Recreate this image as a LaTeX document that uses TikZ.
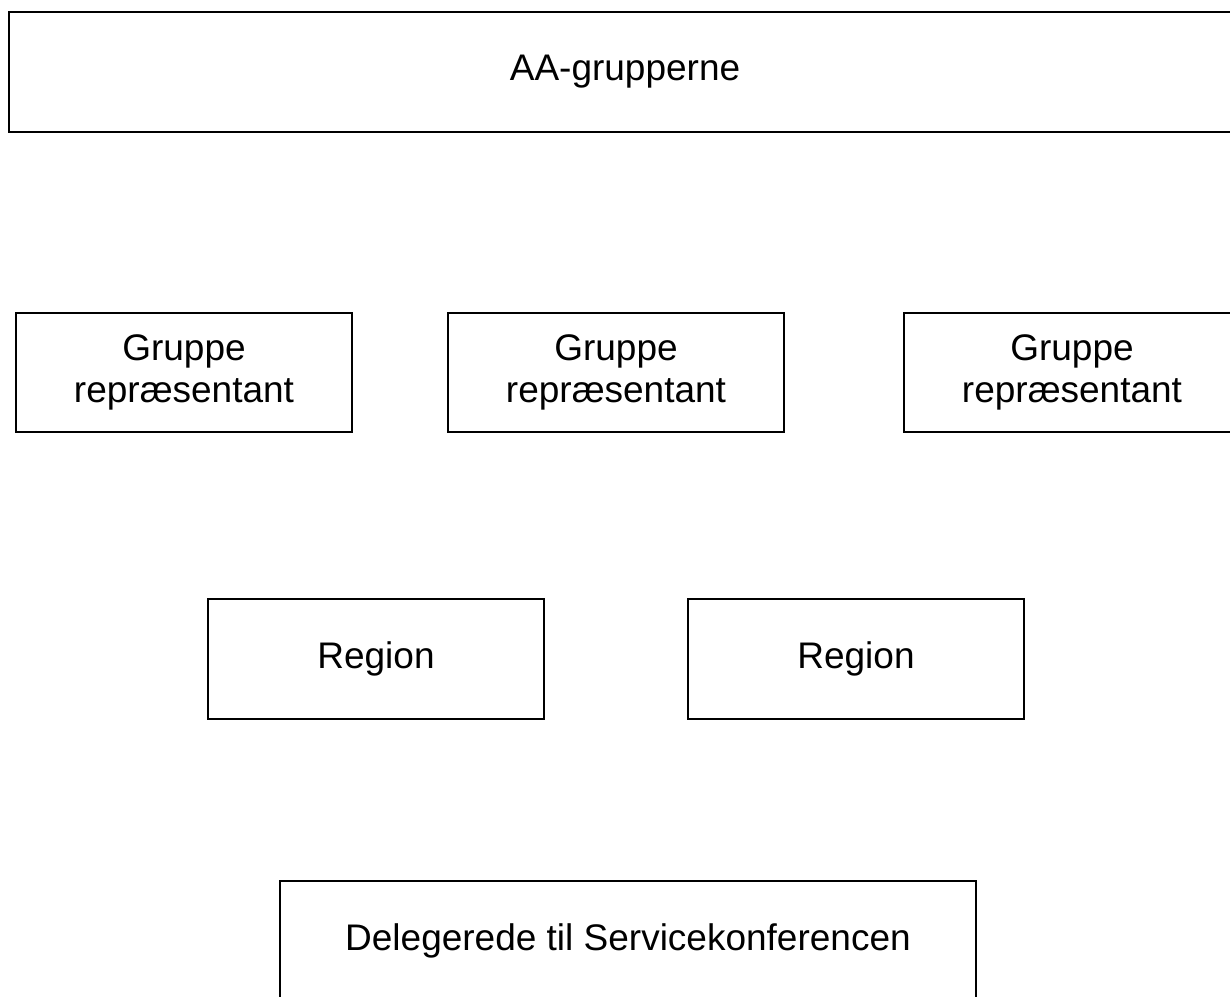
\documentclass[tikz,border=0pt]{standalone}
\usepackage{fontspec}
\setmainfont{Liberation Sans}
\begin{document}
\begin{tikzpicture}[x=1pt,y=-1pt,
  box/.style={draw=black, line width=2.5pt, fill=none, align=center, inner sep=0pt, outer sep=0pt,
    font=\fontsize{37}{42}\selectfont}]
\useasboundingbox (0,0) rectangle (1230,996);
\clip (0,0) rectangle (1230,996);
\node[box, minimum width=1232pt, minimum height=120pt] (aa) at (625,72) {AA-grupperne};
\node[box, minimum width=336pt, minimum height=119pt] (g1) at (184,372.5) {Gruppe\\repræsentant};
\node[box, minimum width=336pt, minimum height=119pt] (g2) at (616,372.5) {Gruppe\\repræsentant};
\node[box, minimum width=336pt, minimum height=119pt] (g3) at (1072,372.5) {Gruppe\\repræsentant};
\node[box, minimum width=336pt, minimum height=120pt] (r1) at (376,659) {Region};
\node[box, minimum width=336pt, minimum height=120pt] (r2) at (856,659) {Region};
\node[box, minimum width=696pt, minimum height=120pt] (del) at (628,941) {Delegerede til Servicekonferencen};
\end{tikzpicture}
\end{document}
